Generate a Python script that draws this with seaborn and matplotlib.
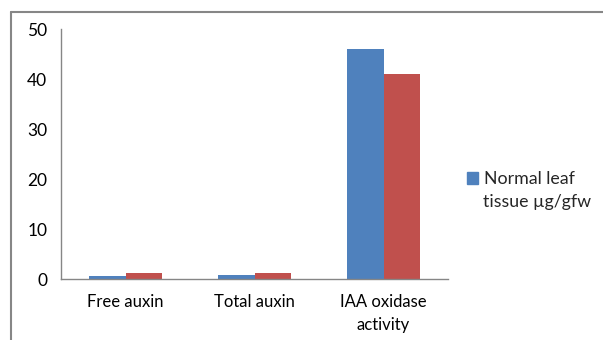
import matplotlib

matplotlib.use("Agg")
import matplotlib.pyplot as plt
import pandas as pd
import seaborn as sns
from matplotlib.lines import Line2D
from matplotlib.patches import Patch

categories = ["Free auxin", "Total auxin", "IAA oxidase\nactivity"]
normal_values = [0.6, 0.8, 46.0]
infected_values = [1.3, 1.3, 41.0]
series_names = ["Normal leaf tissue \u00b5g/gfw", "Infected leaf tissue \u00b5g/gfw"]
legend_lines = ["Normal leaf", "tissue \u00b5g/gfw"]
y_ticks = [0, 10, 20, 30, 40, 50]

BLUE = "#4F81BD"
RED = "#C0504D"
AXIS_GRAY = "#868686"

df = pd.DataFrame(
    {
        "category": categories * 2,
        "value": normal_values + infected_values,
        "series": [series_names[0]] * 3 + [series_names[1]] * 3,
    }
)

sns.set_theme(style="white")
plt.rcParams["font.family"] = ["Lato", "DejaVu Sans"]

fig = plt.figure(figsize=(6.03, 3.4), dpi=100)
ax = fig.add_axes([0.1012, 0.1794, 0.6418, 0.7353])

sns.barplot(
    data=df, x="category", y="value", hue="series", order=categories,
    hue_order=series_names, palette=[BLUE, RED], width=0.56,
    saturation=1, legend=False, linewidth=0, ax=ax,
)

ax.set_ylim(0, 50)
ax.set_xlim(-0.5, 2.5)
ax.set_yticks(y_ticks)
ax.set_yticklabels([str(t) for t in y_ticks], fontsize=12.5)
ax.set_xlabel("")
ax.set_ylabel("")

# category boundary ticks, like the original chart
ax.set_xticks([-0.5, 0.5, 1.5, 2.5], minor=False)
ax.set_xticklabels([])
ax.set_xticks([0, 1, 2], minor=True)
ax.set_xticklabels(categories, minor=True, fontsize=12, linespacing=1.55)
ax.tick_params(axis="x", which="minor", length=0, pad=11)
ax.tick_params(axis="x", which="major", length=5, width=1, color=AXIS_GRAY, direction="out")
ax.tick_params(axis="y", length=5, width=1, color=AXIS_GRAY, direction="out", pad=5)
ax.tick_params(colors="black", which="both", labelcolor="black")

for side in ["top", "right"]:
    ax.spines[side].set_visible(False)
for side in ["left", "bottom"]:
    ax.spines[side].set_color(AXIS_GRAY)
    ax.spines[side].set_linewidth(1)

# legend: square next to the first line, second line wraps beneath
handle = Patch(facecolor=BLUE, edgecolor=BLUE)
leg = fig.legend(
    [handle], [legend_lines[0]], loc="center left",
    bbox_to_anchor=(0.774, 1 - 179 / 340), frameon=False, fontsize=12.8,
    handlelength=0.65, handleheight=0.65, handletextpad=0.3,
    borderpad=0, borderaxespad=0,
)
fig.text(483 / 603, 1 - 202 / 340, legend_lines[1], fontsize=12.8, va="center", ha="left")

# outer chart frame (partly cropped in the original)
fig.add_artist(Line2D([11 / 603, 11 / 603], [0, 1 - 12 / 340], color=AXIS_GRAY, lw=1.5))
fig.add_artist(Line2D([11 / 603, 1], [1 - 12 / 340, 1 - 12 / 340], color=AXIS_GRAY, lw=1.5))

fig.savefig("out.png", dpi=100)
